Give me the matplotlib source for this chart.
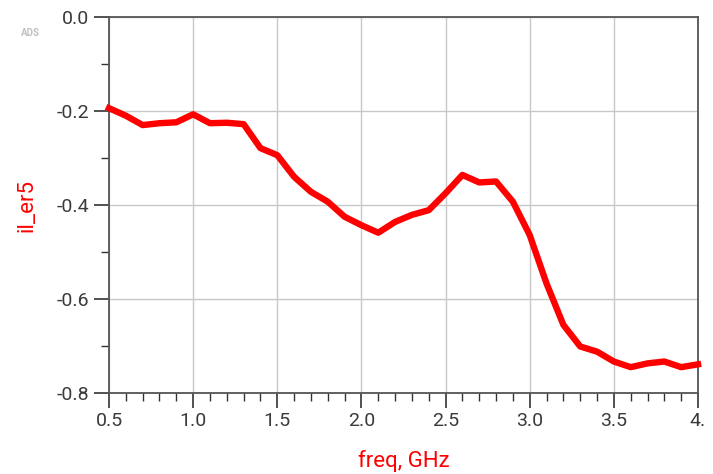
import matplotlib
matplotlib.use("Agg")
import matplotlib.pyplot as plt
from matplotlib.ticker import MultipleLocator

plt.rcParams['font.family'] = ['Roboto', 'DejaVu Sans']

freq = [0.5, 0.6, 0.7, 0.8, 0.9, 1.0, 1.1, 1.2, 1.3, 1.4, 1.5, 1.6, 1.7, 1.8, 1.9,
        2.0, 2.1, 2.2, 2.3, 2.4, 2.5, 2.6, 2.7, 2.8, 2.9, 3.0, 3.1, 3.2, 3.3, 3.4,
        3.5, 3.6, 3.7, 3.8, 3.9, 4.0]
il_er5 = [-0.194, -0.210, -0.230, -0.226, -0.224, -0.207, -0.226, -0.225, -0.228, -0.279,
          -0.294, -0.340, -0.372, -0.393, -0.425, -0.443, -0.459, -0.436, -0.421, -0.411,
          -0.375, -0.336, -0.352, -0.350, -0.393, -0.464, -0.567, -0.655, -0.701, -0.712,
          -0.733, -0.745, -0.737, -0.733, -0.745, -0.739]
xticks = [0.5, 1.0, 1.5, 2.0, 2.5, 3.0, 3.5, 4.0]
xticklabels = ["0.5", "1.0", "1.5", "2.0", "2.5", "3.0", "3.5", "4."]
yticks = [0.0, -0.2, -0.4, -0.6, -0.8]
yticklabels = ["0.0", "-0.2", "-0.4", "-0.6", "-0.8"]

fig = plt.figure(figsize=(7.13, 4.74), dpi=100)
ax = fig.add_axes([109/713, 1-393/474, (698-109)/713, (393-17)/474])

ax.plot(freq, il_er5, color='#ff0000', lw=4.6, solid_joinstyle='round', zorder=3, clip_on=False)

ax.set_xlim(0.5, 4.0)
ax.set_ylim(-0.8, 0.0)
ax.set_xticks(xticks)
ax.set_xticklabels(xticklabels)
ax.set_yticks(yticks)
ax.set_yticklabels(yticklabels)
ax.xaxis.set_minor_locator(MultipleLocator(0.1))
ax.yaxis.set_minor_locator(MultipleLocator(0.1))

ax.grid(True, which='major', color='#c8c8c8', lw=1.0)
ax.set_axisbelow(True)

ax.tick_params(which='major', direction='out', length=11, width=1.2, color='#333333',
               labelsize=14, labelcolor='#3a3a3a', pad=3)
ax.tick_params(which='minor', direction='out', length=6, width=1.0, color='#333333')

for s in ax.spines.values():
    s.set_color('#555555')
    s.set_linewidth(1.3)

ax.set_xlabel('freq, GHz', color='#ff0000', fontsize=16, labelpad=14)
ax.set_ylabel('il_er5', color='#ff0000', fontsize=16, labelpad=14)

fig.text(30/713, 1-33/474, 'ADS', color='#c0c0c0', fontsize=7, fontweight='bold',
         ha='center', va='center')

fig.savefig('out.png', dpi=100)
